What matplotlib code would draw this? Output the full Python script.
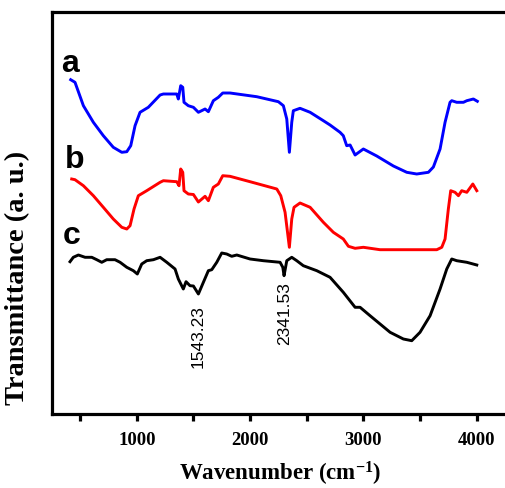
import matplotlib
matplotlib.use("Agg")
import matplotlib.pyplot as plt
from matplotlib.ticker import MultipleLocator, NullFormatter, FixedLocator

plt.rcParams['mathtext.fontset'] = 'custom'
plt.rcParams['mathtext.rm'] = 'Liberation Serif:bold'
plt.rcParams['mathtext.default'] = 'rm'

# ---- data (wavenumber, transmittance a.u.) ----
a_wn = [417, 455, 529, 617, 705, 793, 868, 912, 947, 985, 1029, 1102, 1206, 1235, 1353, 1367,
        1388, 1406, 1417, 1455, 1500, 1544, 1603, 1632, 1676, 1720, 1759, 1823, 2059, 2250,
        2294, 2324, 2347, 2368, 2382, 2441, 2530, 2647, 2706, 2794, 2823, 2853, 2883, 2927,
        3000, 3118, 3265, 3383, 3471, 3574, 3618, 3677, 3721, 3765, 3780, 3824, 3883, 3913,
        3971, 4006]
a_t = [334.3, 331.7, 308.3, 291.7, 278.3, 266.7, 261.7, 262.3, 268.3, 288.3, 301.7, 306.7,
       319, 320, 320, 315, 328.3, 326.7, 311.7, 308.3, 306.7, 301.7, 305, 302.3, 313.3, 316.7,
       321, 321, 317.3, 312.3, 308.3, 295, 261.7, 291.7, 303.3, 305.7, 301.7, 293.3, 289,
       281.7, 278.3, 268.3, 269, 259, 265, 258, 248, 241.7, 240, 241.7, 247, 265, 291.7,
       311.7, 313.3, 311.7, 311.7, 313.3, 315, 312.7]

b_wn = [426, 455, 529, 617, 705, 793, 868, 912, 941, 976, 1014, 1088, 1206, 1235, 1353, 1373,
        1388, 1406, 1417, 1455, 1500, 1544, 1603, 1632, 1676, 1720, 1759, 1823, 2000, 2236,
        2271, 2309, 2347, 2368, 2388, 2441, 2530, 2647, 2735, 2823, 2868, 2927, 3000, 3147,
        3648, 3692, 3721, 3750, 3771, 3809, 3839, 3868, 3913, 3966, 4001]
b_t = [235, 234.3, 228.3, 218.3, 206.7, 195, 186.7, 185, 188.3, 205, 218.3, 223.3, 231.7,
       233.3, 232.3, 228.3, 245, 241.7, 223.3, 220, 219.5, 212, 217.7, 213.3, 226.7, 230,
       238.3, 237.7, 232.3, 225, 218.3, 201.7, 166.7, 195, 206.7, 211, 206.7, 191.7, 181.7,
       175, 167.7, 165.7, 166.7, 164.3, 164.3, 166.7, 175, 205, 223.3, 221.7, 218.3, 223.3,
       221.7, 230, 223.3]

c_wn = [411, 440, 485, 544, 603, 647, 691, 735, 808, 853, 912, 970, 1005, 1044, 1088, 1147,
        1206, 1265, 1338, 1367, 1411, 1435, 1470, 1500, 1544, 1588, 1632, 1662, 1706, 1750,
        1794, 1838, 1883, 2000, 2117, 2265, 2289, 2300, 2324, 2368, 2412, 2470, 2589, 2706,
        2823, 2927, 2971, 3059, 3236, 3353, 3427, 3500, 3589, 3677, 3736, 3780, 3824, 3913,
        4001]
c_t = [152.3, 156.7, 159, 156.7, 156.7, 154.3, 151.7, 154.3, 154.3, 151.7, 146.7, 143.3,
       140, 150, 153.3, 154.3, 156.7, 151.7, 145, 135, 125, 132.3, 128.3, 128, 120, 131.7,
       143.3, 144.3, 151.7, 161, 160, 157.7, 159, 155, 153.3, 151.7, 146.7, 138.3, 153.3,
       156.7, 153.3, 148.3, 143.3, 136.7, 121.7, 106.7, 106.7, 98.3, 81.7, 75, 73.3, 81.7,
       98.3, 125, 145, 155, 153.3, 151.7, 149]

labels = ['a', 'b', 'c']
peak_labels = ['1543.23', '2341.53']
xticks_major = [1000, 2000, 3000, 4000]

# ---- figure ----
fig = plt.figure(figsize=(5.05, 4.89), dpi=100)
ax = fig.add_axes([52/505, 1 - 415/489, (511 - 52)/505, (415 - 13)/489])

ax.plot(a_wn, a_t, color='#0000ff', lw=2.1)
ax.plot(b_wn, b_t, color='#ff0000', lw=2.1)
ax.plot(c_wn, c_t, color='#000000', lw=2.1)

ax.set_xlim(252, 4303)
ax.set_ylim(0, 402)

for s in ax.spines.values():
    s.set_linewidth(2.3)

ax.xaxis.set_major_locator(FixedLocator(xticks_major))
ax.xaxis.set_minor_locator(MultipleLocator(500))
ax.xaxis.set_minor_formatter(NullFormatter())
ax.tick_params(axis='x', which='both', direction='out', length=5, width=2.3,
               top=False, pad=7)
ax.set_yticks([])
for t in ax.get_xticklabels():
    t.set_fontfamily('Liberation Serif')
    t.set_fontweight('bold')
    t.set_fontsize(13.5)

lab_font = dict(family='Liberation Sans', weight='bold', fontsize=23, va='baseline')
ax.text(335, 343, labels[0], **lab_font)
ax.text(362, 247, labels[1], **lab_font)
ax.text(345, 171, labels[2], **lab_font)

ann_font = dict(family='Liberation Sans', fontsize=12.5, rotation=90, ha='center', va='top')
ax.text(1541, 110, peak_labels[0], **ann_font)
ax.text(2309, 133.3, peak_labels[1], **ann_font)

fig.text(280/505, 1/489, 'Wavenumber (cm$^{-1}$)', family='Liberation Serif',
         weight='bold', fontsize=16.5, ha='center', va='bottom')
fig.text(18/505, 1 - 277.5/489, 'Transmittance (a. u.)', family='Liberation Serif',
         weight='bold', fontsize=20.5, ha='center', va='center', rotation=90)

fig.savefig('out.png', dpi=100)
